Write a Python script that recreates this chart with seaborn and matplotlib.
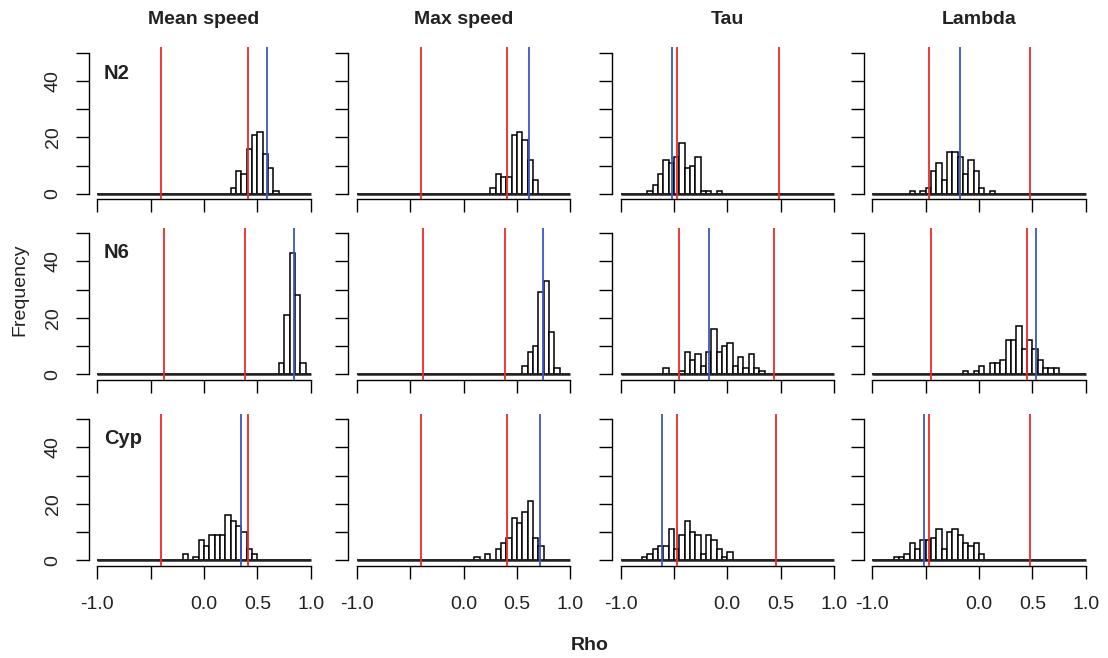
import numpy as np
import pandas as pd
import matplotlib
matplotlib.use("Agg")
import matplotlib.pyplot as plt
import seaborn as sns

sns.set_theme(style="white")
plt.rcParams['font.family'] = ['Liberation Sans', 'DejaVu Sans']

# ---------------- data ----------------
metrics = ["Mean speed", "Max speed", "Tau", "Lambda"]
strains = ["N2", "N6", "Cyp"]
bin_width = 0.05
x_ticks = [-1.0, -0.5, 0.0, 0.5, 1.0]
x_tick_labels = ["-1.0", "", "0.0", "0.5", "1.0"]
y_ticks = [0, 10, 20, 30, 40, 50]
y_tick_labels = ["0", "", "20", "", "40", ""]

# left edge of first bin, and counts per bin (bin width 0.05)
n2_starts = [0.25, 0.25, -0.75, -0.65]
n2_mean_counts = [2, 8, 7, 16, 21, 22, 14, 9, 1]
n2_max_counts = [2, 7, 6, 6, 21, 22, 19, 12, 5]
n2_tau_counts = [1, 3, 7, 12, 11, 13, 18, 9, 10, 13, 1, 1, 0, 1]
n2_lambda_counts = [1, 0, 1, 2, 8, 11, 5, 15, 15, 13, 7, 12, 8, 2, 0, 1]

n6_starts = [0.70, 0.55, -0.60, -0.15]
n6_mean_counts = [4, 21, 43, 28, 4]
n6_max_counts = [3, 8, 10, 29, 33, 15, 2]
n6_tau_counts = [2, 0, 0, 1, 8, 5, 7, 3, 8, 16, 8, 10, 11, 3, 6, 2, 7, 2, 1]
n6_lambda_counts = [1, 0, 1, 3, 0, 4, 4, 5, 12, 12, 17, 9, 12, 9, 5, 2, 2, 2]

cyp_starts = [-0.20, 0.10, -0.80, -0.80]
cyp_mean_counts = [2, 0, 1, 7, 5, 9, 9, 9, 16, 14, 12, 10, 4, 2]
cyp_max_counts = [1, 0, 2, 0, 4, 6, 8, 15, 13, 17, 21, 8, 5]
cyp_tau_counts = [1, 2, 4, 5, 5, 11, 4, 9, 14, 10, 9, 2, 9, 7, 4, 1, 3]
cyp_lambda_counts = [1, 1, 2, 6, 4, 7, 7, 8, 11, 4, 10, 11, 9, 6, 5, 6, 2]

# red critical lines (lower / upper) and blue observed rho
n2_crit_low = [-0.40, -0.40, -0.47, -0.47]
n2_crit_high = [0.41, 0.41, 0.48, 0.48]
n2_observed = [0.585, 0.616, -0.516, -0.176]
n6_crit_low = [-0.38, -0.375, -0.45, -0.45]
n6_crit_high = [0.38, 0.385, 0.44, 0.45]
n6_observed = [0.844, 0.747, -0.169, 0.536]
cyp_crit_low = [-0.40, -0.40, -0.475, -0.467]
cyp_crit_high = [0.41, 0.41, 0.46, 0.48]
cyp_observed = [0.345, 0.713, -0.61, -0.52]

counts = {
    "N2": [n2_mean_counts, n2_max_counts, n2_tau_counts, n2_lambda_counts],
    "N6": [n6_mean_counts, n6_max_counts, n6_tau_counts, n6_lambda_counts],
    "Cyp": [cyp_mean_counts, cyp_max_counts, cyp_tau_counts, cyp_lambda_counts],
}
starts = {"N2": n2_starts, "N6": n6_starts, "Cyp": cyp_starts}
crit_low = {"N2": n2_crit_low, "N6": n6_crit_low, "Cyp": cyp_crit_low}
crit_high = {"N2": n2_crit_high, "N6": n6_crit_high, "Cyp": cyp_crit_high}
observed = {"N2": n2_observed, "N6": n6_observed, "Cyp": cyp_observed}

# ---------------- layout ----------------
W, H = 1108, 658
fig = plt.figure(figsize=(W / 100, H / 100), dpi=100)
col_left = [88.8, 348.2, 612.0, 863.8]
col_width = 230.6
row_top = [47.4, 227.7, 413.7]
row_height = 152.0

RED = "#f02828"
BLUE = "#3c56c4"
edges = [round(-1.0 + bin_width * i, 2) for i in range(41)]
label_y = [0.79, 0.80, 0.80]

for r, strain in enumerate(strains):
    for c, metric in enumerate(metrics):
        ax = fig.add_axes([col_left[c] / W, 1 - (row_top[r] + row_height) / H,
                           col_width / W, row_height / H])
        cnt = [float(v) for v in counts[strain][c]]
        centers = [starts[strain][c] + bin_width * (i + 0.5) for i in range(len(cnt))]
        df = pd.DataFrame({"rho": centers, "n": cnt})
        sns.histplot(data=df, x="rho", weights="n", bins=edges, ax=ax,
                     color="white", edgecolor="black", linewidth=1.1,
                     alpha=1.0, zorder=2)
        ax.plot([-1, 1], [0, 0], color="#222222", lw=1.8, zorder=3,
                solid_capstyle="butt")
        ax.axvline(crit_low[strain][c], color=RED, lw=1.3, zorder=4)
        ax.axvline(crit_high[strain][c], color=RED, lw=1.3, zorder=4)
        ax.axvline(observed[strain][c], color=BLUE, lw=1.3, zorder=4)

        ax.set_xlim(-1.08, 1.08)
        ax.set_ylim(-2, 52)
        ax.set_xlabel("")
        ax.set_ylabel("")
        for s in ["top", "right"]:
            ax.spines[s].set_visible(False)
        for s in ["left", "bottom"]:
            ax.spines[s].set_color("black")
            ax.spines[s].set_linewidth(1.0)
        ax.spines["left"].set_bounds(0, 50)
        ax.spines["bottom"].set_bounds(-1, 1)
        ax.set_xticks(x_ticks)
        ax.set_yticks(y_ticks)
        ax.tick_params(axis="both", direction="out", length=9.5, width=1.0,
                       color="black", labelsize=14, labelcolor="#222222",
                       bottom=True, left=True)
        if r == len(strains) - 1:
            ax.set_xticklabels(x_tick_labels)
            ax.tick_params(axis="x", pad=12)
        else:
            ax.set_xticklabels([])
        if c == 0:
            ax.set_yticklabels(y_tick_labels, rotation=90, va="center")
            ax.tick_params(axis="y", pad=10)
            ax.text(0.066, label_y[r], strain, transform=ax.transAxes,
                    fontsize=14.5, fontweight="bold", color="#222222",
                    ha="left", va="baseline")
        else:
            ax.set_yticklabels([])
        if r == 0:
            ax.set_title(metric, fontsize=14, fontweight="bold",
                         color="#222222", pad=17)
        ax.patch.set_alpha(0)

fig.text(20 / W, 1 - 290 / H, "Frequency", rotation=90, fontsize=14,
         ha="center", va="center", color="#222222")
fig.text(590 / W, 1 - 645 / H, "Rho", fontsize=14, fontweight="bold",
         ha="center", va="center", color="#222222")

fig.savefig("out.png", dpi=100, facecolor="white")
